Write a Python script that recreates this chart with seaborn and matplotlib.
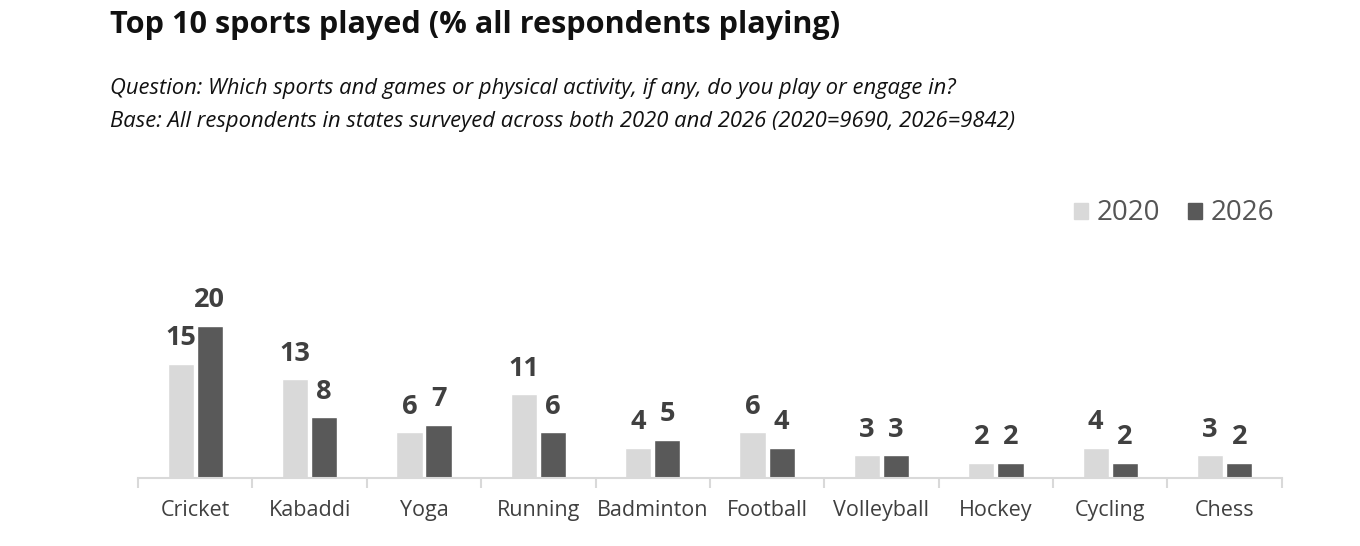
import pandas as pd
import seaborn as sns
import matplotlib.pyplot as plt

# Data
sports = ["Cricket", "Kabaddi", "Yoga", "Running", "Badminton",
          "Football", "Volleyball", "Hockey", "Cycling", "Chess"]
pct_2020 = [15, 13, 6, 11, 4, 6, 3, 2, 4, 3]
pct_2026 = [20, 8, 7, 6, 5, 4, 3, 2, 2, 2]
years = ["2020", "2026"]
colors = {"2020": "#d9d9d9", "2026": "#595959"}

df = pd.DataFrame({
    "sport": sports * 2,
    "year": ["2020"] * len(sports) + ["2026"] * len(sports),
    "pct": pct_2020 + pct_2026,
})

sns.set_theme(style="white")
plt.rcParams["font.family"] = ["Open Sans", "DejaVu Sans"]

fig = plt.figure(figsize=(13.6, 5.46), dpi=100)
ax = fig.add_axes([0.1015, 0.1245, 0.841, 0.418])

sns.barplot(data=df, x="sport", y="pct", hue="year", hue_order=years,
            palette=colors, width=0.51, gap=0.1, saturation=1, ax=ax,
            legend=False)

for cont in ax.containers:
    ax.bar_label(cont, padding=9, fontsize=19.5, fontweight="bold", color="#404040")

ax.set_ylim(0, 30)
ax.set_xlim(-0.5, len(sports) - 0.5)
ax.set_xlabel("")
ax.set_ylabel("")
ax.set_yticks([])
for s in ["top", "right", "left"]:
    ax.spines[s].set_visible(False)
ax.spines["bottom"].set_color("#d9d9d9")
ax.spines["bottom"].set_linewidth(1.5)

ax.set_xticks(range(len(sports)))
ax.set_xticklabels(sports, fontsize=15.5, color="#404040")
ax.tick_params(axis="x", which="major", length=0, pad=16)
ax.set_xticks([i - 0.5 for i in range(len(sports) + 1)], minor=True)
ax.tick_params(axis="x", which="minor", length=7, width=1.5, color="#d9d9d9",
               direction="out", bottom=True)

fig.text(0.081, 0.955, "Top 10 sports played (% all respondents playing)",
         fontsize=22.1, fontweight="bold", color="#111111", va="center")
fig.text(0.081, 0.837,
         "Question: Which sports and games or physical activity, if any, do you play or engage in?",
         fontsize=15.8, style="italic", color="#111111", va="center")
fig.text(0.081, 0.777,
         "Base: All respondents in states surveyed across both 2020 and 2026 (2020=9690, 2026=9842)",
         fontsize=15.8, style="italic", color="#111111", va="center")

handles = [plt.Rectangle((0, 0), 1, 1, color=colors[y]) for y in years]
leg = fig.legend(handles, years, loc="center right", bbox_to_anchor=(0.955, 0.609),
                 ncol=2, frameon=False, fontsize=20, handlelength=0.5,
                 handleheight=0.5, handletextpad=0.3, columnspacing=1.0)
for t in leg.get_texts():
    t.set_color("#555555")

fig.savefig("out.png", dpi=100)
